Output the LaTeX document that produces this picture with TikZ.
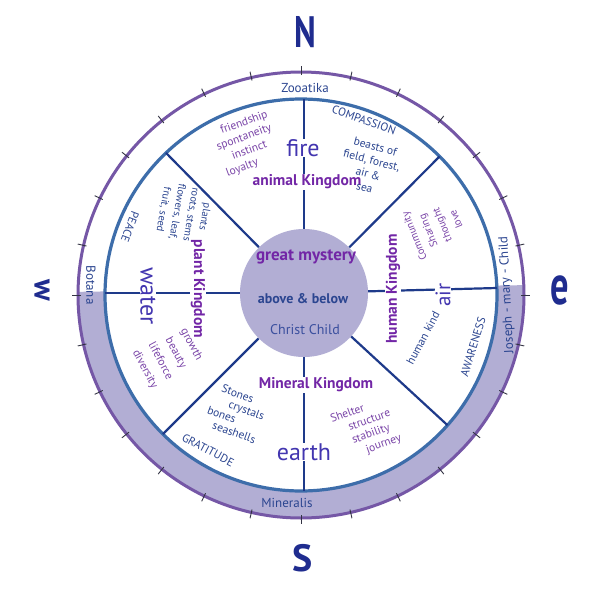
\documentclass[tikz,border=0pt]{standalone}
\usepackage{fontspec}
\setmainfont{PT Sans}
\definecolor{bandfill}{HTML}{B2AED4}
\definecolor{ringpurple}{HTML}{7557A6}
\definecolor{ringblue}{HTML}{3D6DAA}
\definecolor{spokenavy}{HTML}{1E3A8A}
\definecolor{kpurple}{HTML}{7226A6}
\definecolor{elemblue}{HTML}{4336B0}
\definecolor{navytxt}{HTML}{2B4590}
\definecolor{lilactxt}{HTML}{7A45A8}
\definecolor{compassnavy}{HTML}{1F2C8F}
\definecolor{christ}{HTML}{3A4F9E}
\definecolor{tickc}{HTML}{333344}
\begin{document}
\begin{tikzpicture}[x=1pt,y=-1pt,
  every node/.style={inner sep=0.5pt},
  spoke/.style={draw=spokenavy,line width=2.2pt},
  tickmark/.style={draw=tickc,line width=0.9pt},
  kingdom/.style={font=\fontsize{15.5}{15.5}\selectfont\bfseries, text=kpurple, fill=white},
  elem/.style={font=\fontsize{24}{24}\selectfont, text=elemblue, fill=white},
  smallnavy/.style={font=\fontsize{11.5}{13}\selectfont, text=navytxt},
  smalllilac/.style={font=\fontsize{11.5}{13}\selectfont, text=lilactxt},
  capsnavy/.style={font=\fontsize{11.5}{13}\selectfont, text=navytxt},
  compass/.style={text=compassnavy},
  bandtxt/.style={font=\fontsize{13}{13}\selectfont, text=navytxt},
]
\useasboundingbox (0,0) rectangle (600,600);
\fill[white] (0,0) rectangle (600,600);
\coordinate (c0) at (301,295);
% shaded lower band
\begin{scope}
  \clip (0,293) -- (600,284) -- (600,600) -- (0,600) -- cycle;
  \fill[bandfill, even odd rule] (c0) circle[radius=223] (c0) circle[radius=196];
\end{scope}
\draw[ringpurple, line width=3pt] (c0) circle[radius=223];
\draw[ringblue, line width=3.2pt] (c0) circle[radius=196];
\foreach \k in {0,...,27}{
  \draw[tickmark, shift={(c0)}] ({\k*360/28}:220) -- ({\k*360/28}:229);
}
% centre disc
\node[circle, fill=bandfill, minimum size=128pt, inner sep=0pt] (cc) at (304,293) {};
% spoke ends
\coordinate (sN) at (304,99);
\coordinate (sNE) at (439.6,156.4);
\coordinate (sE) at (497,288);
\coordinate (sSE) at (447.5,425.2);
\coordinate (sS) at (304,491);
\coordinate (sSW) at (162.9,434.1);
\coordinate (sW) at (105,293);
\coordinate (sNW) at (166,152.9);
\foreach \s in {sN,sNE,sE,sSE,sS,sSW,sW,sNW}{
  \draw[spoke] (cc) -- (\s);
}
% compass letters
\node[compass, font=\fontsize{44}{44}\selectfont\bfseries, xscale=0.75] (nN) at (305,32) {N};
\node[compass, font=\fontsize{30}{30}\selectfont\bfseries, rotate=-90] (nW) at (42,290) {w};
\node[compass, font=\fontsize{56}{56}\selectfont\bfseries, xscale=0.65] (nE) at (560,290) {e};
\node[compass, font=\fontsize{38}{38}\selectfont\bfseries] (nS) at (303,558) {S};
% band labels
\node[bandtxt] (zoo) at (305,88) {Zooatika};
\node[bandtxt, rotate=-90] (bot) at (91,285) {Botana};
\node[bandtxt] (minl) at (287,503) {Mineralis};
\node[bandtxt, rotate=93] (jmc) at (507,295) {Joseph - mary - Child};
% centre texts
\node[font=\fontsize{17}{17}\selectfont\bfseries, text=kpurple] (gm) at (306,257) {great mystery};
\node[font=\fontsize{14}{14}\selectfont\bfseries, text=navytxt] (ab) at (303,299) {above \& below};
\node[font=\fontsize{14}{14}\selectfont, text=christ] (cch) at (305,330) {Christ Child};
% kingdoms
\node[kingdom] (ak) at (307,182) {animal Kingdom};
\node[kingdom] (mk) at (316,385) {Mineral Kingdom};
\node[kingdom, rotate=-90] (pk) at (198,289) {plant Kingdom};
\node[kingdom, rotate=90] (hk) at (393,289) {human Kingdom};
% elements
\node[elem] (fire) at (303,148) {fire};
\node[elem] (earth) at (304,452) {earth};
\node[elem, rotate=-90] (water) at (148,296) {water};
\node[elem, rotate=90, font=\fontsize{21}{21}\selectfont] (air) at (443,295) {air};
% virtues along the inner ring
\node[capsnavy, rotate=-20] (comp) at (364,120) {COMPASSION};
\node[capsnavy, rotate=-28] (grat) at (208,450) {GRATITUDE};
\node[capsnavy, rotate=73] (aw) at (473,347) {AWARENESS};
\node[capsnavy, rotate=-111] (peace) at (130,227) {PEACE};
% animal quadrant
\node[smalllilac, rotate=20, align=left, font=\fontsize{11.5}{14}\selectfont] (friends) at (247,144)
  {\hspace*{9pt}friendship\\spontaneity\\\hspace*{11pt}instinct\\loyalty};
\node[smallnavy, rotate=-15, align=center, font=\fontsize{11.5}{14}\selectfont] (beasts) at (370,167)
  {beasts of\\field, forest,\\air \&\\sea};
% plant quadrant
\node[smallnavy, rotate=-100, align=center, font=\fontsize{10.5}{14}\selectfont] (plants) at (184,213)
  {plants\\roots, stems\\flowers, leaf,\\fruit, seed};
\node[smalllilac, rotate=-62, align=center, font=\fontsize{11.5}{17.5}\selectfont] (growth) at (168,357)
  {growth\\beauty\\lifeforce\\diversity};
% mineral quadrant
\node[smallnavy, rotate=-20, align=left, font=\fontsize{11.5}{12.5}\selectfont] (stones) at (236,413)
  {\hspace*{6pt}Stones\\\hspace*{18pt}crystals\\bones\\\hspace*{10pt}seashells};
\node[smalllilac, rotate=20, align=left, font=\fontsize{11.5}{13.5}\selectfont] (shelter) at (366,429)
  {Shelter\\\hspace*{14pt}structure\\\hspace*{13pt}stability\\\hspace*{23pt}journey};
% human quadrant
\node[smallnavy, rotate=62] (hkind) at (423,338) {human kind};
\node[smalllilac, rotate=112, align=center, font=\fontsize{10.5}{15}\selectfont] (commun) at (435,228)
  {Community\\Sharing\\thought\\love};
\end{tikzpicture}
\end{document}
